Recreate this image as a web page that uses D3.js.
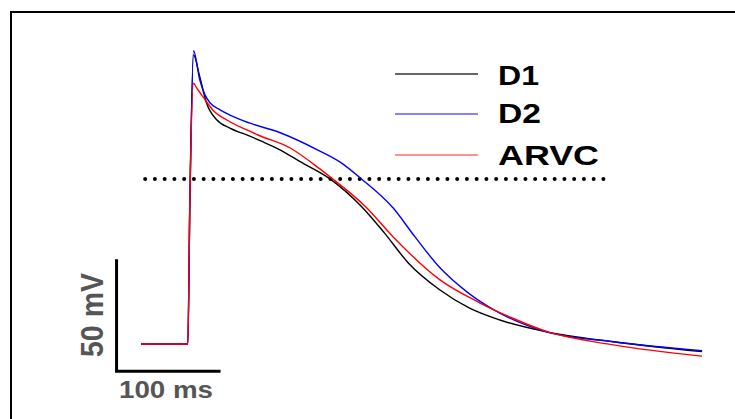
<!DOCTYPE html>
<html>
<head>
<meta charset="utf-8">
<script src="https://cdn.jsdelivr.net/npm/d3@7"></script>
<style>
  body { margin: 0; background: #fff; }
  svg { display: block; }
</style>
</head>
<body>
<script>
const width = 735
const height = 419

// traces: time in ms, membrane potential in mV
const seriesNames = ['D1', 'D2', 'ARVC']
const seriesColors = ['#000000', '#0000ff', '#ff0000']
const legendColors = ['#333333', '#5a5aff', '#ff6e6e']

const d1Time = [0, 45, 47, 50.5, 56.5, 63, 73, 85.5, 104, 117, 134, 153, 181.7, 211.5, 234, 257, 287.5, 315.5, 345, 390, 454, 539.5]
const d1Volt = [-85, -85, -20.7, 44, 34.3, 22.6, 15, 11.4, 7.9, 5.3, 1.6, -3.6, -11.3, -23.4, -35.4, -48.8, -60.9, -68.9, -74.3, -79.6, -84.0, -88.4]

const d2Time = [0, 45, 47, 50.5, 56.5, 61.5, 66.5, 76, 85.5, 104, 134.5, 170, 191.5, 212, 242.5, 263.5, 287.5, 315.5, 345, 390, 454, 539.5]
const d2Volt = [-85, -85, -20.7, 45.9, 32.9, 26.2, 22.6, 19.5, 17.2, 13.7, 9.2, 1.6, -3.8, -11.3, -24.3, -37.2, -51, -62.5, -71.2, -79.6, -84.0, -88.0]

const arvcTime = [0, 45, 47, 50.5, 53.5, 59.5, 69, 82.5, 104, 112.5, 143.5, 171, 181.5, 216, 242.5, 287.5, 326, 357.5, 390, 454, 539.5]
const arvcVolt = [-85, -85, -20.7, 31.4, 29.3, 25.4, 19.5, 15, 10.1, 8.3, 2.5, -6.5, -10.3, -23.7, -37.2, -56.4, -66.7, -73.5, -79.4, -85.4, -90.4]

const dottedLevel = -11.3
const dottedRange = [4, 446]

// scale bars: 100 ms and 50 mV
const barTime = 100
const barVolt = 50
const barOrigin = [-23.5, -97.2]
const barLabels = ['100 ms', '50 mV']

const tracesTime = [d1Time, d2Time, arvcTime]
const tracesVolt = [d1Volt, d2Volt, arvcVolt]

const svg = d3.select('body')
        .append('svg')
        .attr('width', width)
        .attr('height', height)

// frame (only top and left sides show)
svg.append('path')
        .attr('d', `M11,${height} L11,12 L${width},12`)
        .attr('fill', 'none')
        .attr('stroke', '#000')
        .attr('stroke-width', 2)

const xScale = d3.scaleLinear()
        .domain([0, 540])
        .range([141, 141 + 540 * 1.04])

const yScale = d3.scaleLinear()
        .domain([-85, 50])
        .range([344, 344 - 135 * 2.24])

const line = d3.line()
        .x(d => xScale(d[0]))
        .y(d => yScale(d[1]))
        .curve(d3.curveMonotoneX)

// dotted reference level
svg.append('line')
        .attr('x1', xScale(dottedRange[0]))
        .attr('x2', xScale(dottedRange[1]))
        .attr('y1', yScale(dottedLevel))
        .attr('y2', yScale(dottedLevel))
        .attr('stroke', '#000')
        .attr('stroke-width', 4)
        .attr('stroke-linecap', 'round')
        .attr('stroke-dasharray', '0 9.75')

// traces
seriesNames.forEach((name, i) => {
    const pts = tracesTime[i].map((t, j) => [t, tracesVolt[i][j]])
    svg.append('path')
        .datum(pts)
        .attr('d', line)
        .attr('fill', 'none')
        .attr('stroke', seriesColors[i])
        .attr('stroke-width', 1.4)
        .attr('stroke-linejoin', 'round')
})

// scale bars
const bx = xScale(barOrigin[0])
const by = yScale(barOrigin[1])
svg.append('path')
        .attr('d', `M${bx},${yScale(barOrigin[1] + barVolt)} L${bx},${by} L${xScale(barOrigin[0] + barTime)},${by}`)
        .attr('fill', 'none')
        .attr('stroke', '#000')
        .attr('stroke-width', 3)

svg.append('text')
        .text(barLabels[0])
        .attr('x', 119)
        .attr('y', 398)
        .attr('font-family', '"Liberation Sans", Arial, sans-serif')
        .attr('font-weight', 'bold')
        .attr('font-size', '24.5px')
        .attr('fill', '#555')
        .attr('textLength', 94)
        .attr('lengthAdjust', 'spacingAndGlyphs')

svg.append('text')
        .text(barLabels[1])
        .attr('transform', 'translate(103,357) rotate(-90) scale(1,1.25)')
        .attr('font-family', '"Liberation Sans", Arial, sans-serif')
        .attr('font-weight', 'bold')
        .attr('font-size', '25px')
        .attr('fill', '#555')
        .attr('textLength', 84)
        .attr('lengthAdjust', 'spacingAndGlyphs')

// legend
const legendY = [74, 114, 155]
const legendTextY = [85, 123, 165]
const legendLen = [41, 43, 101]
const legend = svg.append('g')

legend.selectAll('line')
        .data(seriesNames)
        .join('line')
        .attr('x1', 395)
        .attr('x2', 478)
        .attr('y1', (d, i) => legendY[i])
        .attr('y2', (d, i) => legendY[i])
        .attr('stroke', (d, i) => legendColors[i])
        .attr('stroke-width', 1.4)

legend.selectAll('text')
        .data(seriesNames)
        .join('text')
        .text(d => d)
        .attr('x', 498)
        .attr('y', (d, i) => legendTextY[i])
        .attr('font-family', '"Liberation Sans", Arial, sans-serif')
        .attr('font-weight', 'bold')
        .attr('font-size', '28px')
        .attr('fill', '#000')
        .attr('textLength', (d, i) => legendLen[i])
        .attr('lengthAdjust', 'spacingAndGlyphs')
</script>
</body>
</html>
